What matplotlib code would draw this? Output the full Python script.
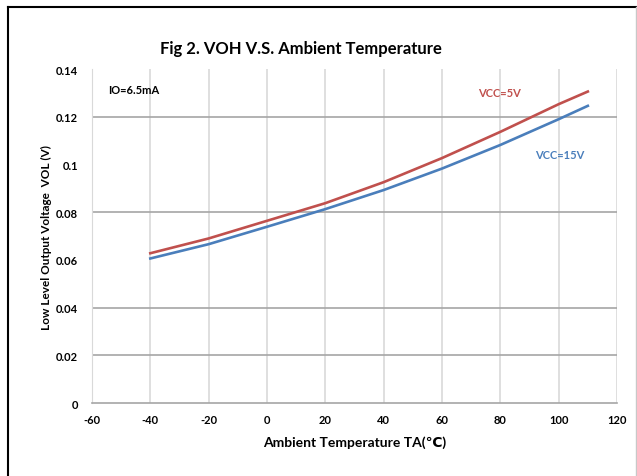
import matplotlib.pyplot as plt
from matplotlib.lines import Line2D

# temperatures (C) and VOL (V)
temp = [-40, -20, 0, 20, 40, 60, 80, 100, 110]
vol_5v = [0.0628, 0.0690, 0.0764, 0.0838, 0.0926, 0.1027, 0.1137, 0.1253, 0.1306]
vol_15v = [0.0606, 0.0666, 0.0739, 0.0813, 0.0893, 0.0983, 0.1082, 0.1190, 0.1246]

x_ticks = list(range(-60, 121, 20))
y_ticks = [0, 0.02, 0.04, 0.06, 0.08, 0.1, 0.12, 0.14]
y_tick_labels = ['0', '0.02', '0.04', '0.06', '0.08', '0.1', '0.12', '0.14']
# only these horizontal gridlines show in the picture
y_grid = [0.02, 0.04, 0.08, 0.12]

plt.rcParams['font.family'] = ['Lato', 'DejaVu Sans']
plt.rcParams['axes.unicode_minus'] = False

fig = plt.figure(figsize=(6.37, 4.77), dpi=100)
ax = fig.add_axes([0.1444, 0.153, 0.8242, 0.700])

for xv in x_ticks[1:]:
    ax.axvline(xv, color='#d9d9d9', lw=1.2, zorder=1)
for yv in y_grid:
    ax.axhline(yv, color='#a6a6a6', lw=1.2, zorder=1)

ax.plot(temp, vol_5v, color='#c0504d', lw=1.9, zorder=3)
ax.plot(temp, vol_15v, color='#4a7ebb', lw=1.9, zorder=3)

ax.set_xlim(-60, 120)
ax.set_ylim(0, 0.14)
ax.set_xticks(x_ticks)
ax.set_yticks(y_ticks)
ax.set_yticklabels(y_tick_labels)
ax.tick_params(axis='y', length=0, labelsize=8, pad=10)
ax.tick_params(axis='x', length=0, labelsize=8, pad=8)
for lab in ax.get_xticklabels() + ax.get_yticklabels():
    lab.set_fontweight('bold')

for side in ['top', 'right']:
    ax.spines[side].set_visible(False)
ax.spines['left'].set_color('#d9d9d9')
ax.spines['bottom'].set_color('#a6a6a6')
ax.spines['bottom'].set_linewidth(1.2)

ax.set_xlabel('Ambient Temperature TA(℃)', fontsize=10, fontweight='bold', labelpad=7)
ax.set_ylabel('Low Level Output Voltage  VOL (V)', fontsize=8.5, fontweight='bold', labelpad=3)
fig.text(0.472, 0.898, 'Fig 2. VOH V.S. Ambient Temperature', ha='center', va='center',
         fontsize=12, fontweight='bold')

ax.text(-54.5, 0.1315, 'IO=6.5mA', fontsize=8, fontweight='bold', va='center')
ax.text(72.3, 0.1303, 'VCC=5V', fontsize=8, fontweight='bold', color='#c0504d', va='center')
ax.text(92, 0.1043, 'VCC=15V', fontsize=8, fontweight='bold', color='#4a7ebb', va='center')

# outer frame like the screenshot
fig.add_artist(Line2D([8 / 637, 1], [1 - 8 / 477, 1 - 8 / 477], color='black', lw=1.5))
fig.add_artist(Line2D([8 / 637, 8 / 637], [0, 1 - 8 / 477], color='black', lw=1.5))
fig.add_artist(Line2D([636 / 637, 636 / 637], [0, 1 - 8 / 477], color='#c8c8c8', lw=1))

fig.savefig('out.png', dpi=100)
